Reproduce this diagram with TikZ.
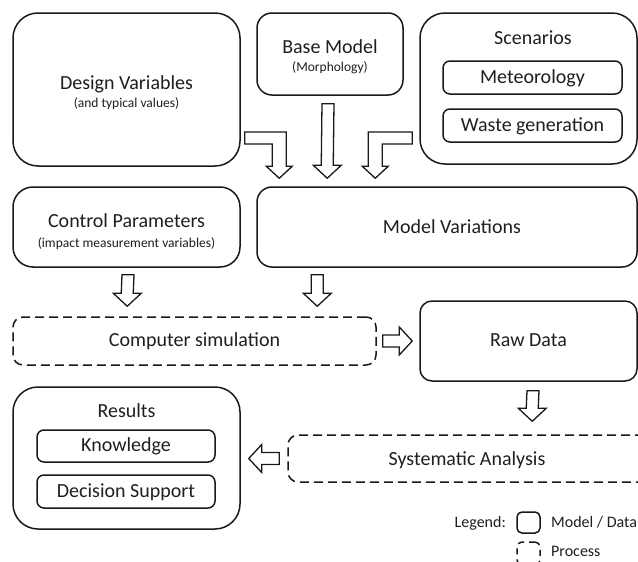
\documentclass[tikz,border=0pt]{standalone}
\usepackage{fontspec}
\setmainfont{Carlito}
\usetikzlibrary{calc}

% hollow block arrow pointing down: #1 tail, #2 tip (same x)
\newcommand\blockdown[2]{%
  \draw[blockarrow] ($(#1)+(-6,0)$) -- ($(#1)+(6,0)$) -- ($(#2)+(6,-13)$)
    -- ($(#2)+(14,-13)$) -- (#2) -- ($(#2)+(-14,-13)$) -- ($(#2)+(-6,-13)$) -- cycle;}
% hollow block arrow pointing right: #1 tail, #2 tip (same y)
\newcommand\blockright[2]{%
  \draw[blockarrow] ($(#1)+(0,-6)$) -- ($(#2)+(-13,-6)$) -- ($(#2)+(-13,-14)$)
    -- (#2) -- ($(#2)+(-13,14)$) -- ($(#2)+(-13,6)$) -- ($(#1)+(0,6)$) -- cycle;}
% hollow block arrow pointing left: #1 tail, #2 tip (same y)
\newcommand\blockleft[2]{%
  \draw[blockarrow] ($(#1)+(0,-6)$) -- ($(#2)+(13,-6)$) -- ($(#2)+(13,-14)$)
    -- (#2) -- ($(#2)+(13,14)$) -- ($(#2)+(13,6)$) -- ($(#1)+(0,6)$) -- cycle;}
% bent arrow: runs right from tail #1, then down to tip #2
\newcommand\bentrightdown[2]{%
  \coordinate (bendc) at (#2 |- #1);
  \draw[blockarrow] ($(#1)+(0,-6)$) -- ($(bendc)+(7,-6)$) -- ($(#2)+(7,-12)$)
    -- ($(#2)+(13,-12)$) -- (#2) -- ($(#2)+(-13,-12)$) -- ($(#2)+(-7,-12)$)
    -- ($(bendc)+(-7,6)$) -- ($(#1)+(0,6)$) -- cycle;}
% bent arrow: runs left from tail #1, then down to tip #2
\newcommand\bentleftdown[2]{%
  \coordinate (bendc) at (#2 |- #1);
  \draw[blockarrow] ($(#1)+(0,-6)$) -- ($(bendc)+(-7,-6)$) -- ($(#2)+(-7,-12)$)
    -- ($(#2)+(-13,-12)$) -- (#2) -- ($(#2)+(13,-12)$) -- ($(#2)+(7,-12)$)
    -- ($(bendc)+(7,6)$) -- ($(#1)+(0,6)$) -- cycle;}

\begin{document}
\begin{tikzpicture}[x=1pt,y=-1pt,
  ink/.style={text=black!88},
  box/.style={draw=black!90, line width=1.5pt, rounded corners=#1, inner sep=0pt,
    ink, text height=13pt, text depth=2pt, font=\fontsize{20}{24}\selectfont},
  box/.default=12pt,
  processbox/.style={box=#1, dash pattern=on 9pt off 5pt},
  processbox/.default=10pt,
  title/.style={inner sep=0pt, ink, text height=13pt, text depth=0pt,
    font=\fontsize{20}{24}\selectfont},
  sub/.style={inner sep=0pt, ink, text height=8.8pt, text depth=0pt,
    font=\fontsize{13.5}{16}\selectfont},
  legtext/.style={inner sep=0pt, ink, text height=10.4pt, text depth=0pt,
    font=\fontsize{16}{19}\selectfont},
  blockarrow/.style={draw=black!90, line width=1.3pt, fill=white, line join=miter}]

\fill[white] (0,0) rectangle (638,562);
\useasboundingbox (0,0) rectangle (638,562);

% top row
\node[box=25pt, minimum width=227pt, minimum height=153pt] (dv) at (126.5,89.5) {};
\node[title] (dvt) at (126.5,82.5) {Design Variables};
\node[sub] (dvs) at (126.5,102.6) {(and typical values)};

\node[box=15pt, minimum width=146pt, minimum height=82pt] (base) at (330,54) {};
\node[title] (baset) at (330,46.5) {Base Model};
\node[sub] (bases) at (330,66.6) {(Morphology)};

\node[box=25pt, minimum width=217pt, minimum height=151pt] (scen) at (528.5,88.5) {};
\node[title] (scent) at (533,38.5) {Scenarios};
\node[box=7pt, minimum width=179pt, minimum height=33pt] (met) at (532.5,77.5) {Meteorology};
\node[box=7pt, minimum width=179pt, minimum height=33pt] (waste) at (532.5,125.5) {Waste generation};

% second row
\node[box=20pt, minimum width=227pt, minimum height=80pt] (cp) at (126.5,227) {};
\node[title] (cpt) at (126.5,220.5) {Control Parameters};
\node[sub] (cps) at (126.5,242.6) {(impact measurement variables)};

\node[box=15pt, minimum width=380pt, minimum height=80pt] (mv) at (447,227) {};
\node[title] (mvt) at (452,227) {Model Variations};

% third row
\node[processbox, minimum width=363pt, minimum height=48pt] (cs) at (194.5,341) {Computer simulation};
\node[box=12pt, minimum width=217pt, minimum height=80pt] (raw) at (528.5,341) {Raw Data};

% fourth row
\node[processbox, minimum width=380pt, minimum height=47pt] (sa) at (478,458.5) {};
\node[title] (sat) at (467,458.5) {Systematic Analysis};

\node[box=25pt, minimum width=227pt, minimum height=142pt] (res) at (126.5,458) {};
\node[title] (rest) at (126.5,411) {Results};
\node[box=7pt, minimum width=178pt, minimum height=32pt] (know) at (126,446) {Knowledge};
\node[box=7pt, minimum width=178pt, minimum height=33pt] (dec) at (126,491.5) {Decision Support};

% legend
\node[legtext, anchor=east] (legl) at (506,522.5) {Legend:};
\node[draw=black!90, line width=1.5pt, rounded corners=5pt, inner sep=0pt,
  minimum width=23pt, minimum height=21pt] (legm) at (528.5,522.5) {};
\node[draw=black!90, line width=1.5pt, rounded corners=5pt, inner sep=0pt,
  dash pattern=on 6pt off 5pt, minimum width=23pt, minimum height=23pt] (legp) at (528.5,553.5) {};
\node[legtext, anchor=west] (legmt) at (551,522.5) {Model / Data};
\node[legtext, anchor=west] (legpt) at (551,551) {Process};

% arrow end points
\coordinate (dvout)   at ($(dv.east)+(4,48.5)$);
\coordinate (mvinL)   at ($(mv.north west)+(23,-8)$);
\coordinate (baseout) at ($(base.south)+(-2,8)$);
\coordinate (mvinM)   at ($(mv.north west)+(71,-8)$);
\coordinate (scenout) at ($(scen.west)+(-7,49.5)$);
\coordinate (mvinR)   at ($(mv.north west)+(119,-8)$);
\coordinate (cpout)   at ($(cp.south)+(1.5,7)$);
\coordinate (csinL)   at ($(cs.north west)+(115,-10)$);
\coordinate (mvout)   at ($(mv.south west)+(61,7)$);
\coordinate (csinR)   at ($(cs.north west)+(305,-10)$);
\coordinate (csout)   at ($(cs.east)+(6,0)$);
\coordinate (rawin)   at ($(raw.west)+(-7,0)$);
\coordinate (rawout)  at ($(raw.south)+(4.5,9)$);
\coordinate (sain)    at ($(sa.north west)+(245,-13)$);
\coordinate (saout)   at ($(sa.west)+(-8,0)$);
\coordinate (resin)   at ($(res.east |- sa.west)+(8,0)$);

% block arrows
\bentrightdown{dvout}{mvinL}
\blockdown{baseout}{mvinM}
\bentleftdown{scenout}{mvinR}
\blockdown{cpout}{csinL}
\blockdown{mvout}{csinR}
\blockright{csout}{rawin}
\blockdown{rawout}{sain}
\blockleft{saout}{resin}

\end{tikzpicture}
\end{document}
